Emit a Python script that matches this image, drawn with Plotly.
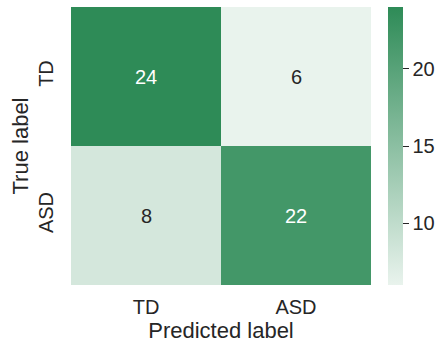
import plotly.graph_objects as go

pred_labels = ["TD", "ASD"]
true_labels = ["TD", "ASD"]
counts = [[24, 6], [8, 22]]
cbar_ticks = [10, 15, 20]

FONT = "Liberation Sans, Arial, sans-serif"
DARK = "#262626"

colorscale = [[0.0, "#e9f3ed"], [1.0, "#2e8b57"]]

fig = go.Figure(
    go.Heatmap(
        z=counts,
        x=pred_labels,
        y=true_labels,
        colorscale=colorscale,
        zmin=6,
        zmax=24,
        xgap=0,
        ygap=0,
        hoverinfo="skip",
        colorbar=dict(
            thickness=15,
            len=1,
            lenmode="fraction",
            x=1.057,
            xanchor="left",
            xpad=0,
            ypad=0,
            y=0.5,
            yanchor="middle",
            outlinewidth=0,
            ticks="outside",
            ticklen=6,
            tickwidth=1.3,
            tickcolor=DARK,
            tickvals=cbar_ticks,
            tickfont=dict(family=FONT, size=20, color=DARK),
        ),
    )
)

zmin, zmax = 6, 24
for i, row in enumerate(counts):
    for j, v in enumerate(row):
        frac = (v - zmin) / (zmax - zmin)
        color = "white" if frac > 0.5 else DARK
        fig.add_annotation(
            x=pred_labels[j], y=true_labels[i], text=str(v), showarrow=False,
            font=dict(family=FONT, size=20, color=color),
        )

fig.update_layout(
    width=440,
    height=343,
    margin=dict(l=71, r=69, t=7, b=58, autoexpand=False),
    paper_bgcolor="white",
    plot_bgcolor="white",
    font=dict(family=FONT, color=DARK),
    xaxis=dict(
        title=dict(text="Predicted label", font=dict(family=FONT, size=22, color=DARK), standoff=2),
        tickfont=dict(family=FONT, size=20, color=DARK),
        ticks="",
        showgrid=False,
        zeroline=False,
        showline=False,
        ticklabelstandoff=8,
    ),
    yaxis=dict(
        title=dict(text="True label", font=dict(family=FONT, size=22, color=DARK), standoff=0),
        tickfont=dict(family=FONT, size=20, color=DARK),
        tickangle=-90,
        autorange="reversed",
        ticks="",
        showgrid=False,
        zeroline=False,
        showline=False,
        ticklabelstandoff=13,
    ),
)

fig.write_html("out.html")
